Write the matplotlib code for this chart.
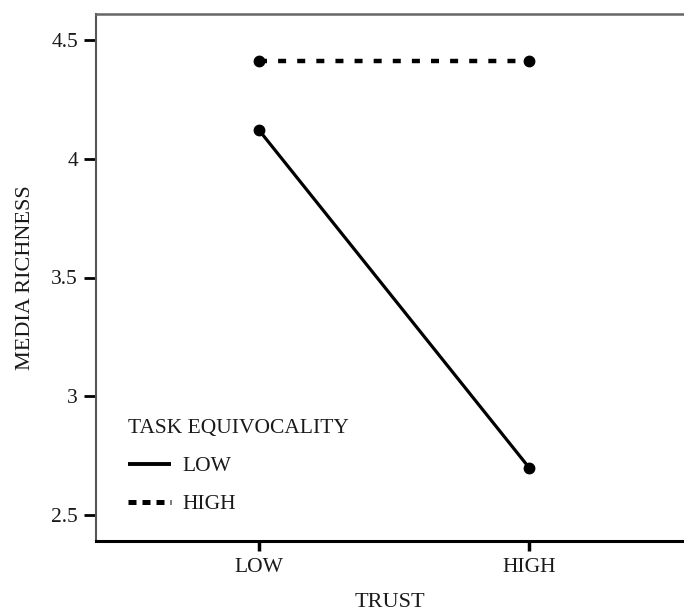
import matplotlib.pyplot as plt
from matplotlib.lines import Line2D

# mean media richness by trust level, split by task equivocality
trust_levels = ['LOW', 'HIGH']
equiv_low = [4.12, 2.70]
equiv_high = [4.41, 4.41]
y_ticks = [2.5, 3, 3.5, 4, 4.5]
y_tick_labels = ['2.5', '3', '3.5', '4', '4.5']

plt.rcParams['font.family'] = ['Liberation Serif', 'DejaVu Serif']
text_col = '#1a1a1a'
high_dash = (1.8, 2.5)

fig = plt.figure(figsize=(6.84, 6.11), dpi=100)
ax = fig.add_axes([96 / 684, 70 / 611, 1 - 96 / 684, (541 - 14) / 611])

x = list(range(len(trust_levels)))
ax.plot(x, equiv_low, color='black', lw=2.3, marker='o', markersize=7.5,
        solid_capstyle='butt')
ax.plot(x, equiv_high, color='black', lw=3.2, marker='o', markersize=7.5,
        dashes=high_dash)

ax.set_xlim(-0.604, 1.574)
ax.set_ylim(2.391, 4.609)
ax.set_xticks(x)
ax.set_xticklabels(trust_levels)
ax.set_yticks(y_ticks)
ax.set_yticklabels(y_tick_labels)

ax.tick_params(axis='y', length=9, width=2, color='black', labelsize=15.5,
               labelcolor=text_col, pad=4)
ax.tick_params(axis='x', length=7, width=2.5, color='black', labelsize=15.5,
               labelcolor=text_col, pad=5)

ax.spines['right'].set_visible(False)
ax.spines['left'].set_color('#555555')
ax.spines['left'].set_linewidth(1.5)
ax.spines['top'].set_color('#666666')
ax.spines['top'].set_linewidth(1.8)
ax.spines['bottom'].set_color('black')
ax.spines['bottom'].set_linewidth(2.2)

ax.set_xlabel('TRUST', fontsize=16, color=text_col, labelpad=12)
ax.set_ylabel('MEDIA RICHNESS', fontsize=16, color=text_col, labelpad=12)

# legend shows line styles only
handles = [Line2D([], [], color='black', lw=2.8, solid_capstyle='butt'),
           Line2D([], [], color='black', lw=3.6, dashes=(1.6, 1.2))]
leg = ax.legend(handles, ['LOW', 'HIGH'], title='TASK EQUIVOCALITY',
                frameon=False, loc='lower left', bbox_to_anchor=(0.04, 0.034),
                fontsize=15.5, title_fontsize=15.5, handlelength=2.0,
                handletextpad=0.5, labelspacing=0.85, borderaxespad=0)
leg._legend_box.align = 'left'
for t in leg.get_texts():
    t.set_color(text_col)
leg.get_title().set_color(text_col)

fig.savefig('out.png', dpi=100)
